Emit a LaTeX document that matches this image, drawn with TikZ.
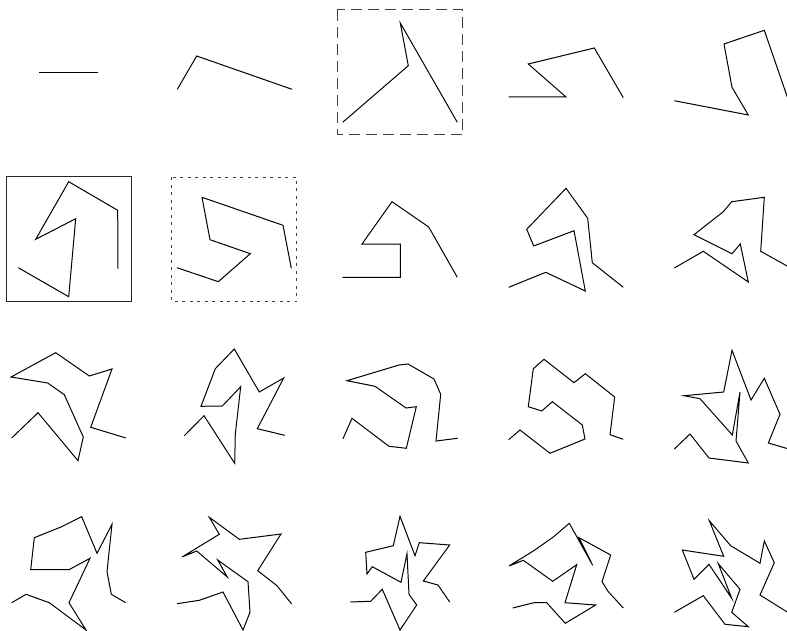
\documentclass[tikz,border=0pt]{standalone}
\begin{document}
\begin{tikzpicture}[x=1pt,y=-1pt,
  poly/.style={draw=black,line width=1pt,line join=miter},
  boxsolid/.style={draw=black!85,line width=1pt},
  boxdash/.style={draw=black!75,line width=1pt,dash pattern=on 11pt off 6pt},
  boxdot/.style={draw=black!75,line width=1pt,dash pattern=on 3pt off 4.5pt}]
\useasboundingbox (0,0) rectangle (787,631);
\begin{scope}
\clip (0,0) rectangle (787,631);
% row 1
\draw[poly] (39,72.3) -- (98.3,72.3);
\draw[poly] (177.3,89.3) -- (196.7,56) -- (292,89.3);
\draw[boxdash] (337.3,10) rectangle (462.7,134.7);
\draw[poly] (342.7,122.3) -- (408.3,65.7) -- (400.3,23) -- (457.3,122.3);
\draw[poly] (508.7,97) -- (566,97) -- (528.3,64) -- (594.3,48) -- (623.3,97.7);
\draw[poly] (674.3,100.7) -- (748.3,115) -- (732,87.3) -- (724,44) -- (764.3,30.3) -- (788,99);
% row 2
\draw[boxsolid] (6,177) rectangle (131,301.7);
\draw[poly] (18.3,267.7) -- (68.7,296.7) -- (75.7,218.7) -- (35.7,239.3) -- (68.7,181.7) -- (117.7,210.3) -- (118,268.7);
\draw[boxdot] (171.7,177.3) rectangle (296.7,301.7);
\draw[poly] (177,267.7) -- (218.3,281.7) -- (250.3,253.7) -- (210,239.7) -- (202,197.3) -- (283,225.3) -- (291.3,268.3);
\draw[poly] (342.7,277.3) -- (400.3,277.3) -- (400.3,244) -- (362,244) -- (392,201.7) -- (428.7,227) -- (457.3,277.3);
\draw[poly] (508.7,287.3) -- (545.7,272.3) -- (585.3,291) -- (574,230.7) -- (533.7,246) -- (526.7,229.3) -- (566,188.3) -- (587.7,218.3) -- (592.3,262.7) -- (623.3,287.3);
\draw[poly] (674.3,268) -- (703.3,251.3) -- (748.3,282) -- (740.3,244) -- (732,253.7) -- (694,234.7) -- (723.3,211.7) -- (731.7,201.7) -- (764.3,197.3) -- (760.7,251.3) -- (788,266.5);
% row 3
\draw[poly] (11.7,438) -- (38,412.7) -- (78,460.7) -- (83.3,437) -- (64.3,394.7) -- (47.7,383) -- (11,377) -- (55.7,352.7) -- (89.3,376) -- (112,369) -- (90.7,427.3) -- (126,438);
\draw[poly] (184.3,435.7) -- (204,415.7) -- (234.7,463.3) -- (235.3,434) -- (240.7,386.7) -- (222.3,406) -- (201,406.3) -- (215.3,368.7) -- (234.3,349) -- (259.3,392) -- (283.7,378) -- (257.3,428.7) -- (284.7,435.3);
\draw[poly] (343,438.7) -- (352,418.3) -- (389,446.3) -- (406.3,448.3) -- (416.3,406.7) -- (406,408) -- (375,386.3) -- (347,380.7) -- (399,365) -- (408,364) -- (434,379) -- (440.7,394.3) -- (436,441) -- (457.7,438.3);
\draw[poly] (508.7,439.7) -- (520,430) -- (550,453.3) -- (585,439) -- (582.3,425) -- (552.3,401.7) -- (541.7,411) -- (528.3,406.7) -- (533.3,368.7) -- (544,359.3) -- (574,382.7) -- (585.3,373.7) -- (614.7,397) -- (610,434.7) -- (623.3,439.3);
\draw[poly] (674.3,449) -- (690,434) -- (709,458) -- (748.3,463) -- (736,441) -- (740,392) -- (732.3,435) -- (700,398.7) -- (684,395.7) -- (723.7,392) -- (732,350.3) -- (751,400) -- (764.3,378.3) -- (780,414.3) -- (768.3,443) -- (788,448.8);
% row 4
\draw[poly] (11.7,602.7) -- (26,594.3) -- (49.3,602.7) -- (86,630) -- (69,602.7) -- (90,558.3) -- (69,569.7) -- (30.7,569.7) -- (34.3,537.7) -- (61.7,526.7) -- (81.7,516.7) -- (97,553.3) -- (112,524.3) -- (107,571.7) -- (111.3,594.3) -- (125.7,602.7);
\draw[poly] (177,603.7) -- (199.3,600.3) -- (223,592) -- (243,630) -- (250,612.3) -- (248,581.7) -- (217.7,560) -- (227.3,577) -- (196.7,551) -- (182,557) -- (219.3,534.3) -- (209.3,517.3) -- (239.3,539.3) -- (281,534) -- (257.7,570.7) -- (277,585.7) -- (291.7,604);
\draw[poly] (350.3,602) -- (370.7,601.3) -- (382.3,589.3) -- (400,630) -- (416.7,605) -- (409,594.3) -- (407,553.7) -- (401,582.3) -- (372.3,566.7) -- (367,574) -- (365.7,552.3) -- (393.3,545.7) -- (400,516.3) -- (415,555.7) -- (419.3,542.7) -- (449.7,545) -- (423.3,581) -- (438,585) -- (449.7,602);
\draw[poly] (512.7,608) -- (534,602.7) -- (546.7,602.7) -- (565.3,623.3) -- (595.7,605) -- (565,602.7) -- (576.7,564.7) -- (552.7,581.3) -- (523.3,560.3) -- (509,566) -- (533.3,551) -- (553.3,537) -- (569.3,523.3) -- (592.7,565.3) -- (579,537.7) -- (610.7,555) -- (602,581.7) -- (608.3,591.7) -- (623.3,608);
\draw[poly] (674.3,612.3) -- (703.3,595.7) -- (725,624.3) -- (748.3,626.7) -- (731.7,612.3) -- (740,589.3) -- (718.3,563.7) -- (731.7,598.3) -- (709,564.3) -- (694,579.3) -- (682.3,550) -- (723.7,556.3) -- (709.3,520.7) -- (730.7,545.7) -- (760,563.3) -- (764.3,541) -- (774.3,562.7) -- (760,595) -- (788,612.5);
\end{scope}
\end{tikzpicture}
\end{document}
